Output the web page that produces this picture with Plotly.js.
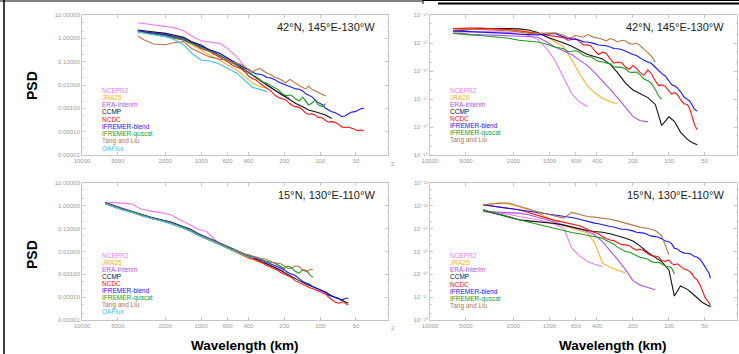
<!DOCTYPE html>
<html><head><meta charset="utf-8">
<script src="https://cdn.plot.ly/plotly-3.0.1.min.js"></script>
<style>html,body{margin:0;padding:0;background:#fff}#chart{width:739px;height:354px}</style>
</head><body><div id="chart"></div><script>
// ---- names & colours ----
const productNames = ['NCEPR2','JRA25','ERA-Interim','CCMP','NCDC','IFREMER-blend','IFREMER-quscat','Tang and Liu','OAFlux'];
const productColors = ['#f07cf0','#ffb030','#b050e8','#111111','#ff1010','#1515ff','#1e9a1e','#b8744a','#40c0f0'];
const panelTitles = ['42°N, 145°E-130°W','42°N, 145°E-130°W','15°N, 130°E-110°W','15°N, 130°E-110°W'];

// ---- ticks ----
const xTickVals = [10000,5000,2000,1000,600,400,200,100,50];
const xTickText = ['10000','5000','2000','1000','600','400','200','100','50'];
const leftTickVals = [1e-5,1e-4,1e-3,1e-2,1e-1,1,10];
const leftTickText = ['0.00001','0.00010','0.00100','0.01000','0.10000','1.00000','10.00000'];
const topRightTickVals = [1e-19,1e-18,1e-17,1e-16,1e-15,1e-14];
const topRightTickText = ['10⁻¹⁹','10⁻¹⁸','10⁻¹⁷','10⁻¹⁶','10⁻¹⁵','10⁻¹⁴'];
const botRightTickVals = [1e-18,1e-17,1e-16,1e-15,1e-14,1e-13,1e-12];
const botRightTickText = ['10⁻¹⁸','10⁻¹⁷','10⁻¹⁶','10⁻¹⁵','10⁻¹⁴','10⁻¹³','10⁻¹²'];

// ---- top-left panel (42N), wavelength km ----
const wlTopLeft = [3400,3000,2500,2000,1700,1400,1200,1000,850,700,600,500,430,370,320,280,240,210,180,160,140,125,110,100,90,80,70,62,55,48,43];
const wlTopLeftMid = [548,464,399,344,299,259,224,194,170,150,132,117,105,95,85,75,66,58,51,45];
const tlNCEP = [4.69,4.3,3.7,3.16,2.87,2.13,1.26,0.79,0.70,0.61,0.37,0.16,0.061,0.027];
const tlJRA = [2.06,1.87,1.75,1.53,1.18,0.85,0.52,0.32,0.19,0.118,0.072,0.044,0.023,0.0118,0.0085,0.0072];
const tlERA = [1.93,1.81,1.75,1.64,1.26,1.0,0.72,0.44,0.32,0.23,0.14,0.072,0.044,0.027,0.016,0.01,0.0061,0.0037,0.0027];
const tlCCMP = [2.28,2.13,1.93,1.64,1.39,1.10,0.72,0.52,0.32,0.19,0.118,0.072,0.044,0.027,0.016,0.01,0.0061,0.0037,0.0023,0.0016,0.00118,0.00085,0.00072,0.00061,0.00052,0.00037];
const tlNCDC = [1.93,1.81,1.64,1.39,1.0,0.85,0.61,0.37,0.27,0.16,0.1,0.061,0.037,0.019,0.0118,0.0072,0.0037,0.0027,0.0016,0.00118,0.00085,0.00056,0.00052,0.00041,0.00030,0.00027,0.00021,0.00015,0.000145,0.00011,0.000107];
const tlNCDCMid = [0.072,0.05,0.024,0.016,0.0088,0.0055,0.0029,0.0023,0.0013,0.0011,0.00062,0.00058,0.00042,0.00038,0.00026,0.00025,0.00016,0.000158,0.00012,0.000118];
const tlIfrBlend = [2.13,1.87,1.64,1.48,1.18,0.91,0.65,0.44,0.32,0.23,0.14,0.085,0.052,0.035,0.029,0.021,0.017,0.0118,0.0092,0.0068,0.0056,0.0036,0.0023,0.0016,0.001,0.00072,0.00052,0.00047,0.00068,0.00085,0.001];
const tlIfrBlendMid = [0.11,0.066,0.046,0.030,0.026,0.020,0.0135,0.0108,0.0076,0.0066,0.0042,0.0031,0.0018,0.0014,0.00082,0.00066,0.00045,0.00058,0.00072,0.00098];
const tlIfrQuscat = [1.93,1.69,1.53,1.26,1.10,0.85,0.61,0.44,0.30,0.19,0.118,0.072,0.044,0.027,0.016,0.0118,0.0072,0.0044,0.0037,0.0025,0.0030,0.0014,0.0023,0.00127,0.0016];
const tlIfrQuscatMid = [0.088,0.061,0.033,0.022,0.013,0.0092,0.0062,0.0035,0.0033,0.0021,0.0019,0.0017,0.0015,0.0012];
const tlTang = [1.26,0.85,0.57,0.53,0.65,0.72,0.37,0.23,0.16,0.126,0.118,0.085,0.061,0.037,0.052,0.032,0.021,0.016,0.0175,0.011,0.0079,0.0091,0.0057,0.0044,0.0034];
const tlTangMid = [0.094,0.078,0.048,0.045,0.040,0.028,0.0195,0.0125,0.0145,0.0095,0.0068,0.0064,0.0050,0.0041];
const tlOAFlux = [1.93,1.64,1.39,1.18,0.91,0.52,0.23,0.118,0.107,0.080,0.052,0.032,0.016,0.0079,0.0065,0.0052];

// ---- top-right panel (42N) ----
const wlTopRight = [6400,5500,4600,3800,3200,2600,2200,1800,1500,1250,1050,900,760,650,560,480,420,360,310,270,230,200,175,150,130,115,100,90,80,70,64,58];
const wlTopRightMid = [703,603,518,449,389,334,289,249,214,187,162,140,122,107,95,85,75,67,61];
const trNCEP = [2.5e-15,2.5e-15,2.45e-15,2.5e-15,2.55e-15,2.5e-15,2.36e-15,2.2e-15,1.9e-15,1.32e-15,6.2e-16,2.4e-16,5.6e-17,1.56e-17,7.8e-18,5.4e-18];
const trJRA = [3.3e-15,3.3e-15,3.35e-15,3.3e-15,3.2e-15,3.1e-15,3.05e-15,2.9e-15,2.5e-15,2.2e-15,1.65e-15,1.09e-15,7.2e-16,2.5e-16,7.8e-17,2.95e-17,1.7e-17,1.06e-17,8.0e-18,6.8e-18];
const trERA = [2.2e-15,2.2e-15,2.05e-15,2.0e-15,1.95e-15,1.9e-15,1.85e-15,1.74e-15,1.7e-15,1.6e-15,1.09e-15,7.2e-16,5.4e-16,3.9e-16,2.4e-16,1.56e-16,8.9e-17,4.5e-17,2.2e-17,1.12e-17,4.9e-18,2.4e-18,1.7e-18,1.52e-18];
const trCCMP = [2.7e-15,2.9e-15,3.05e-15,3.2e-15,3.3e-15,3.3e-15,3.3e-15,3.2e-15,2.9e-15,2.36e-15,1.65e-15,1.32e-15,1.0e-15,7.6e-16,5.4e-16,3.9e-16,3.3e-16,2.7e-16,1.72e-16,8.9e-17,3.6e-17,2.1e-17,1.56e-17,1.12e-17,6.4e-18,1.13e-18,2.3e-18,1.6e-18,6.6e-19,3.6e-19,2.8e-19,2.3e-19];
const trNCDC = [3.3e-15,3.4e-15,3.4e-15,3.4e-15,3.3e-15,3.2e-15,3.05e-15,2.7e-15,2.5e-15,2.2e-15,1.9e-15,1.74e-15,1.56e-15,1.36e-15,1.12e-15,8.7e-16,5.4e-16,4.7e-16,2.7e-16,2.1e-16,1.36e-16,1.56e-16,8.9e-17,1.09e-16,4.5e-17,3.2e-17,1.95e-17,1.7e-17,9.7e-18,6.4e-18,2.4e-18,8.0e-19];
const trNCDCMid = [1.25e-15,1.4e-15,8.5e-16,7.8e-16,3.9e-16,4.2e-16,1.9e-16,2.0e-16,1.15e-16,1.25e-16,7.0e-17,8.0e-17,3.0e-17,2.8e-17,1.5e-17,1.45e-17,6.8e-18,4.5e-18,1.2e-18];
const trIfrBlend = [2.7e-15,2.63e-15,2.56e-15,2.5e-15,2.43e-15,2.3e-15,2.2e-15,2.05e-15,1.95e-15,1.95e-15,2.05e-15,2.2e-15,1.65e-15,1.4e-15,1.25e-15,1.09e-15,9.5e-16,8.2e-16,7.2e-16,6.2e-16,5.1e-16,3.9e-16,2.95e-16,2.1e-16,1.36e-16,8.2e-17,4.5e-17,2.95e-17,1.85e-17,9.7e-18,6.1e-18,3.7e-18];
const trIfrBlendMid = [1.45e-15,1.38e-15,1.1e-15,1.05e-15,8.5e-16,8.0e-16,6.4e-16,5.9e-16,4.3e-16,3.6e-16,2.4e-16,1.85e-16,1.0e-16,6.5e-17,3.3e-17,2.5e-17,1.2e-17,8.5e-18,4.3e-18];
const trIfrQuscat = [2.2e-15,2.05e-15,1.95e-15,1.85e-15,1.74e-15,1.65e-15,1.48e-15,1.25e-15,1.18e-15,1.09e-15,9.0e-16,7.2e-16,6.2e-16,5.1e-16,4.7e-16,3.3e-16,2.7e-16,2.1e-16,1.8e-16,1.36e-16,1.18e-16,8.9e-17,7.4e-17,4.5e-17,2.2e-17,9.7e-18];
const trIfrQuscatMid = [5.0e-16,5.3e-16,3.6e-16,3.2e-16,2.2e-16,2.0e-16,1.4e-16,1.35e-16,9.0e-17,9.2e-17,5.2e-17,3.6e-17,1.3e-17];
const trTang = [2.9e-15,3.05e-15,3.05e-15,3.05e-15,2.95e-15,2.9e-15,2.7e-15,2.5e-15,2.2e-15,2.2e-15,2.2e-15,2.3e-15,1.9e-15,1.56e-15,1.74e-15,2.0e-15,1.56e-15,1.32e-15,1.44e-15,1.09e-15,1.18e-15,9.0e-16,8.2e-16,4.7e-16,2.1e-16];
const trTangMid = [1.6e-15,1.85e-15,1.6e-15,1.75e-15,1.5e-15,1.2e-15,1.3e-15,1.25e-15,9.5e-16,1.0e-15,6.0e-16,3.4e-16];

// ---- bottom-left panel (15N) ----
const wlBottomLeft = [6400,5500,4600,3800,3200,2600,2200,1800,1500,1250,1050,900,760,650,560,480,420,360,310,270,230,200,175,150,130,115,100,90,80,70,64,58];
const wlBottomLeftMid = [703,603,518,449,389,334,289,249,214,187,162,140,122,107,95,85,75,67,61];
const blNCEP = [1.32,1.42,1.32,1.2,0.72,0.57,0.515,0.41,0.245,0.148,0.095,0.075,0.032,0.0177,0.0118,0.0084];
const blJRA = [1.24,0.94,0.67,0.53,0.38,0.27,0.23,0.175,0.117,0.083,0.049,0.036,0.025,0.0165,0.0118,0.0079,0.0056,0.0043,0.0031];
const blERA = [1.42,1.08,0.77,0.59,0.42,0.31,0.245,0.187,0.134,0.089,0.054,0.038,0.0283,0.0189,0.0135,0.0096,0.0069,0.0051,0.0036,0.0026,0.00185,0.00132];
const blCCMP = [1.32,1.0,0.72,0.55,0.41,0.30,0.245,0.194,0.134,0.095,0.056,0.041,0.029,0.0189,0.0131,0.0093,0.0067,0.0049,0.0036,0.0026,0.00179,0.00119,0.00085,0.00053,0.00037,0.00029,0.00022,0.000169,0.000116,0.000083,0.000068,0.000054];
const blNCDC = [1.32,0.94,0.72,0.53,0.39,0.28,0.23,0.175,0.125,0.083,0.052,0.037,0.0257,0.0171,0.0118,0.0084,0.006,0.0046,0.0034,0.0022,0.00156,0.00104,0.00074,0.00043,0.00031,0.000236,0.000175,0.000138,0.00008,0.000054,0.000063,0.000045];
const blNCDCMid = [0.020,0.0145,0.0098,0.0073,0.0051,0.0041,0.0026,0.0019,0.0012,0.00092,0.00053,0.00038,0.00026,0.00021,0.000148,0.0001,0.000062,0.00006,0.000052];
const blIfrBlend = [1.32,1.0,0.75,0.57,0.42,0.31,0.254,0.194,0.138,0.099,0.06,0.042,0.030,0.0202,0.0145,0.0103,0.0074,0.0056,0.0043,0.0031,0.0022,0.00156,0.00104,0.00065,0.00041,0.00029,0.00021,0.000158,0.000105,0.000089,0.00008,0.000089];
const blIfrBlendMid = [0.024,0.017,0.0125,0.0086,0.0066,0.0048,0.0037,0.0025,0.0019,0.0012,0.00088,0.00049,0.00036,0.00024,0.00019,0.00012,0.000098,0.000078,0.00009];
const blIfrQuscat = [1.32,1.0,0.72,0.55,0.41,0.30,0.245,0.187,0.129,0.092,0.056,0.040,0.0283,0.0189,0.0135,0.010,0.0074,0.0058,0.0046,0.0035,0.0027,0.00179,0.00204,0.00111,0.00146,0.00074];
const blIfrQuscatMid = [0.021,0.017,0.0115,0.0092,0.0063,0.0055,0.0038,0.0033,0.0021,0.0023,0.00135,0.0016,0.00095];
const blTang = [1.24,0.94,0.67,0.515,0.38,0.28,0.23,0.175,0.121,0.086,0.052,0.037,0.0265,0.0177,0.0126,0.0096,0.0074,0.006,0.0049,0.004,0.0031,0.0023,0.00179,0.0022,0.00132,0.00167];
const blTangMid = [0.023,0.0145,0.0115,0.0082,0.0070,0.0052,0.0047,0.0033,0.0029,0.0018,0.0023,0.0015,0.0016];
const blOAFlux = [1.24,0.94,0.67,0.515,0.37,0.28,0.222,0.164,0.117,0.080,0.050,0.0347,0.025,0.0165,0.0118,0.0084,0.0064,0.0051];

// ---- bottom-right panel (15N) ----
const wlBottomRight = [3600,3100,2600,2200,1800,1500,1250,1050,900,760,650,560,480,420,360,310,270,230,200,175,150,130,115,100,90,80,70,64,58,52,48,45];
const wlBottomRightMid = [449,389,334,289,249,214,187,162,140,122,107,95,85,75,67,61,55,50,46];
const brNCEP = [5.7e-14,5.15e-14,4.8e-14,4.35e-14,3.4e-14,2.9e-14,2.45e-14,1.94e-14,1.58e-14,1.05e-14,1.4e-15,6.4e-16,3.6e-16,2.77e-16,2.2e-16];
const brJRA = [1.12e-13,1.2e-13,1.32e-13,1.2e-13,9.4e-14,6.7e-14,4.8e-14,3.1e-14,2.07e-14,1.34e-14,1.05e-14,8.3e-15,6.4e-15,2.5e-15,3.1e-16,2.04e-16,1.56e-16,1.11e-16];
const brERA = [5.7e-14,5.5e-14,5.3e-14,5.15e-14,4.8e-14,4.1e-14,3.2e-14,2.45e-14,1.87e-14,1.43e-14,1.17e-14,9.5e-15,7.5e-15,5.4e-15,2.7e-15,1.1e-15,4.6e-16,1.56e-16,5.3e-17,3.4e-17,2.7e-17,2.1e-17];
const brCCMP = [6.7e-14,5.15e-14,4.1e-14,3.2e-14,2.45e-14,2.2e-14,2.0e-14,1.87e-14,1.69e-14,1.43e-14,1.17e-14,9.5e-15,8.3e-15,7.5e-15,7.0e-15,6.0e-15,5.0e-15,3.8e-15,2.9e-15,1.77e-15,9.0e-16,5.6e-16,3.6e-16,1.56e-16,1.12e-17,3.1e-17,2.2e-17,1.48e-17,9.8e-18,5.7e-18,4.5e-18,3.8e-18];
const brNCDC = [1.12e-13,1.0e-13,8.8e-14,7.7e-14,6.7e-14,5.15e-14,3.7e-14,2.9e-14,2.3e-14,1.87e-14,1.58e-14,1.34e-14,9.5e-15,6.8e-15,4.5e-15,3.2e-15,2.5e-15,1.95e-15,1.4e-15,1.26e-15,7.9e-16,6.4e-16,4.0e-16,4.3e-16,2.6e-16,2.3e-16,1.56e-16,1.04e-16,5.7e-17,1.75e-17,7.5e-18,3.8e-18];
const brNCDCMid = [7.5e-15,6.0e-15,3.6e-15,3.0e-15,2.0e-15,1.8e-15,1.15e-15,1.1e-15,6.5e-16,5.8e-16,3.7e-16,3.0e-16,2.9e-16,1.7e-16,1.35e-16,7.0e-17,3.5e-17,1.0e-17,5.5e-18];
const brIfrBlend = [1.12e-13,1.0e-13,8.8e-14,8.0e-14,6.7e-14,5.9e-14,5.15e-14,4.5e-14,3.9e-14,3.4e-14,3.1e-14,2.6e-14,2.07e-14,1.75e-14,1.48e-14,1.25e-14,1.05e-14,9.5e-15,8.0e-15,6.8e-15,5.4e-15,4.5e-15,3.6e-15,2.7e-15,1.4e-15,1.0e-15,8.4e-16,7.1e-16,5.6e-16,3.1e-16,1.56e-16,6.7e-17];
const brIfrBlendMid = [1.85e-14,1.65e-14,1.3e-14,1.18e-14,9.5e-15,9.0e-15,7.0e-15,6.4e-15,4.7e-15,4.2e-15,2.9e-15,2.2e-15,1.3e-15,8.5e-16,8.2e-16,6.0e-16,4.6e-16,2.1e-16,1.1e-16];
const brIfrQuscat = [6.7e-14,5.5e-14,4.35e-14,3.4e-14,2.45e-14,1.94e-14,1.58e-14,1.25e-14,1.02e-14,8.3e-15,6.8e-15,6.0e-15,5.2e-15,4.5e-15,3.8e-15,2.5e-15,1.55e-15,1.0e-15,7.9e-16,5.6e-16,4.6e-16,3.3e-16,2.9e-16,2.2e-16,1.04e-16];
const brIfrQuscatMid = [4.6e-15,4.2e-15,3.0e-15,2.1e-15,1.2e-15,9.5e-16,6.2e-16,5.2e-16,3.6e-16,3.4e-16,2.3e-16,1.9e-16];
const brTang = [1.12e-13,1.24e-13,1.32e-13,1.32e-13,1.0e-13,7.2e-14,5.5e-14,4.5e-14,3.7e-14,2.9e-14,5.15e-14,4.1e-14,3.4e-14,3.2e-14,2.9e-14,2.6e-14,2.2e-14,1.75e-14,1.34e-14,1.17e-14,1.02e-14,8.3e-15,4.9e-15,7.1e-16];

// ---- build traces ----
const panels = [
  {xa:'x',  ya:'y',  wl:wlTopLeft, wlMid:wlTopLeftMid,
   series:[tlNCEP,tlJRA,tlERA,tlCCMP,tlNCDC,tlIfrBlend,tlIfrQuscat,tlTang,tlOAFlux],
   mids:{4:tlNCDCMid,5:tlIfrBlendMid,6:tlIfrQuscatMid,7:tlTangMid}},
  {xa:'x2', ya:'y2', wl:wlTopRight, wlMid:wlTopRightMid,
   series:[trNCEP,trJRA,trERA,trCCMP,trNCDC,trIfrBlend,trIfrQuscat,trTang],
   mids:{4:trNCDCMid,5:trIfrBlendMid,6:trIfrQuscatMid,7:trTangMid}},
  {xa:'x3', ya:'y3', wl:wlBottomLeft, wlMid:wlBottomLeftMid,
   series:[blNCEP,blJRA,blERA,blCCMP,blNCDC,blIfrBlend,blIfrQuscat,blTang,blOAFlux],
   mids:{4:blNCDCMid,5:blIfrBlendMid,6:blIfrQuscatMid,7:blTangMid}},
  {xa:'x4', ya:'y4', wl:wlBottomRight, wlMid:wlBottomRightMid,
   series:[brNCEP,brJRA,brERA,brCCMP,brNCDC,brIfrBlend,brIfrQuscat,brTang],
   mids:{4:brNCDCMid,5:brIfrBlendMid,6:brIfrQuscatMid}}
];
const traces = [];
panels.forEach(p => {
  p.series.forEach((vals, i) => {
    let pts = vals.map((v, k) => [p.wl[k], v]);
    const mid = p.mids[i];
    if (mid) mid.forEach((v, k) => { if (v != null) pts.push([p.wlMid[k], v]); });
    pts.sort((a, b) => b[0] - a[0]);
    traces.push({type:'scatter', mode:'lines', xaxis:p.xa, yaxis:p.ya,
      x:pts.map(q => q[0]), y:pts.map(q => q[1]), name:productNames[i],
      line:{color:productColors[i], width:1.1}, showlegend:false, hoverinfo:'skip'});
  });
});

// ---- layout ----
const W = 739, H = 354;
const px = v => v / W, py = v => 1 - v / H;
const tickFont = {family:'Liberation Sans, DejaVu Sans, Arial, sans-serif', size:6, color:'#9a9a9a'};
const frame = {showline:true, linecolor:'#c6c6c6', linewidth:1, mirror:'ticks', ticks:'inside',
  ticklen:3, tickcolor:'#c6c6c6', showgrid:false, zeroline:false, tickfont:tickFont, fixedrange:true};
function xAxis(dom, anchor){
  return Object.assign({}, frame, {type:'log', domain:dom, anchor:anchor, range:[4, 1.43], autorange:false,
    tickmode:'array', tickvals:xTickVals, ticktext:xTickText});
}
function yAxis(dom, anchor, r, tv, tt){
  return Object.assign({}, frame, {type:'log', domain:dom, anchor:anchor, range:r, autorange:false,
    tickmode:'array', tickvals:tv, ticktext:tt,
    minor:{ticks:'inside', ticklen:1.5, tickcolor:'#d0d0d0', showgrid:false}});
}
const xL = [px(82), px(388)], xR = [px(430), px(737)];
const yT = [py(155), py(15)], yB = [py(320), py(183)];

const annotations = [];
const titleFont = {family:'Liberation Sans, Arial, sans-serif', size:11, color:'#222'};
['x','x2','x3','x4'].forEach((xa, k) => {
  const ya = xa.replace('x','y');
  annotations.push({xref:xa+' domain', yref:ya+' domain', x:0.965, y:0.915, xanchor:'right', yanchor:'middle',
    text:panelTitles[k], showarrow:false, font:titleFont});
});
// in-panel legends
const legendSpots = [{x:100, y:90, n:9, dy:7.3}, {x:448, y:90, n:8, dy:7.2}, {x:100, y:255, n:9, dy:7.1}, {x:448, y:255, n:8, dy:7.3}];
legendSpots.forEach(s => {
  for (let i = 0; i < s.n; i++) {
    annotations.push({xref:'paper', yref:'paper', x:px(s.x), y:py(s.y + i*s.dy), xanchor:'left', yanchor:'middle',
      text:productNames[i], showarrow:false,
      font:{family:'Liberation Sans, Arial, sans-serif', size:6.5, color:productColors[i]}});
  }
});
const boldFont = {family:'Liberation Sans, Arial, sans-serif', size:14, color:'#000'};
const bigBold = {family:'Liberation Sans, Arial, sans-serif', size:13.5, color:'#000'};
annotations.push({xref:'paper', yref:'paper', x:px(32), y:py(86), xanchor:'center', yanchor:'middle', text:'<b>PSD</b>', textangle:-90, showarrow:false, font:boldFont});
annotations.push({xref:'paper', yref:'paper', x:px(32), y:py(255), xanchor:'center', yanchor:'middle', text:'<b>PSD</b>', textangle:-90, showarrow:false, font:boldFont});
annotations.push({xref:'paper', yref:'paper', x:px(245), y:py(345), xanchor:'center', yanchor:'middle', text:'<b>Wavelength (km)</b>', showarrow:false, font:bigBold});
annotations.push({xref:'paper', yref:'paper', x:px(613), y:py(345), xanchor:'center', yanchor:'middle', text:'<b>Wavelength (km)</b>', showarrow:false, font:bigBold});
annotations.push({xref:'paper', yref:'paper', x:px(393), y:py(164), xanchor:'center', yanchor:'middle', text:'2', showarrow:false, font:tickFont});
annotations.push({xref:'paper', yref:'paper', x:px(393), y:py(328), xanchor:'center', yanchor:'middle', text:'2', showarrow:false, font:tickFont});

const shapes = [
  {type:'line', xref:'paper', yref:'paper', x0:px(4), x1:px(4), y0:0, y1:1, line:{color:'#000', width:1.5}},
  {type:'line', xref:'paper', yref:'paper', x0:0, x1:px(423), y0:py(1), y1:py(1), line:{color:'#000', width:1.2}},
  {type:'line', xref:'paper', yref:'paper', x0:px(423), x1:px(423), y0:py(4), y1:1, line:{color:'#000', width:1}},
  {type:'line', xref:'paper', yref:'paper', x0:px(423), x1:1, y0:py(0.5), y1:py(0.5), line:{color:'#000', width:1}},
  {type:'line', xref:'paper', yref:'paper', x0:px(438), x1:1, y0:py(3.5), y1:py(3.5), line:{color:'#000', width:1.8}}
];

const layout = {
  width:W, height:H, margin:{l:0, r:0, t:0, b:0}, paper_bgcolor:'#fff', plot_bgcolor:'#fff',
  showlegend:false,
  xaxis:xAxis(xL,'y'),  yaxis:yAxis(yT,'x', [-5,1], leftTickVals, leftTickText),
  xaxis2:xAxis(xR,'y2'), yaxis2:yAxis(yT,'x2', [-19,-14], topRightTickVals, topRightTickText),
  xaxis3:xAxis(xL,'y3'), yaxis3:yAxis(yB,'x3', [-5,1], leftTickVals, leftTickText),
  xaxis4:xAxis(xR,'y4'), yaxis4:yAxis(yB,'x4', [-18,-12], botRightTickVals, botRightTickText),
  annotations:annotations, shapes:shapes
};
Plotly.newPlot('chart', traces, layout, {displayModeBar:false, staticPlot:true});
</script></body></html>
